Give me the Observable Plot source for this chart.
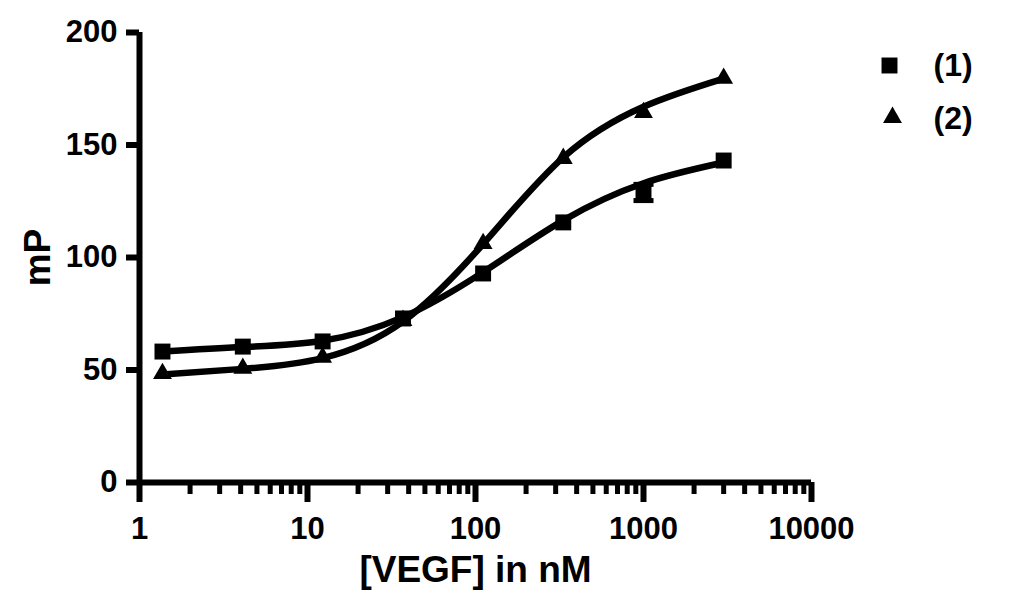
<!DOCTYPE html>
<html>
<head>
<meta charset="utf-8">
<script src="https://cdn.jsdelivr.net/npm/d3@7"></script>
<script src="https://cdn.jsdelivr.net/npm/@observablehq/plot@0.6"></script>
<style>
  html, body { margin: 0; padding: 0; background: #fff; }
  #chart svg { display: block; }
</style>
</head>
<body>
<div id="chart"></div>
<script>
// Concentrations ([VEGF] in nM)
const conc = [1.37, 4.12, 12.3, 37, 111, 333, 1000, 3000];
const series1 = [58.2, 60.4, 62.7, 72.9, 92.9, 115.6, 128.9, 143.1];
const err1    = [0, 0, 0, 0, 0, 0, 3.6, 0];
const fit1    = [58.2, 60.2, 63.0, 73.5, 93.5, 116.5, 133.0, 142.2];
// Series (2) — triangles
const series2 = [48.4, 50.7, 55.6, 72.0, 106.2, 144.0, 164.4, 179.6];
const fit2    = [48.0, 50.5, 55.3, 71.5, 106.0, 144.5, 167.0, 179.5];

const seriesNames = ["(1)", "(2)"];
const xMajorTicks = [1, 10, 100, 1000, 10000];
const xMinorTicks = [2, 3, 4, 5, 6, 7, 8, 9,
                     20, 30, 40, 50, 60, 70, 80, 90,
                     200, 300, 400, 500, 600, 700, 800, 900,
                     2000, 3000, 4000, 5000, 6000, 7000, 8000, 9000];
const yTicks = [0, 50, 100, 150, 200];
const xLabel = "[VEGF] in nM";
const yLabel = "mP";

const pts1 = conc.map((c, i) => ({x: c, y: series1[i], fit: fit1[i], e: err1[i]}));
const pts2 = conc.map((c, i) => ({x: c, y: series2[i], fit: fit2[i]}));
const errs = pts1.filter(d => d.e > 0);

const capSymbol = {
  draw(context, size) {
    const w = Math.sqrt(size / Math.PI);
    context.moveTo(-w, 0);
    context.lineTo(w, 0);
  }
};

const FONT = "'Liberation Sans', Arial, Helvetica, sans-serif";

const chart = Plot.plot({
  width: 1012,
  height: 603,
  marginLeft: 139,
  marginRight: 201,
  marginTop: 32,
  marginBottom: 121,
  x: {type: "log", domain: [1, 10000]},
  y: {domain: [0, 200]},
  style: {fontFamily: FONT, fontWeight: "bold", color: "#000", background: "#fff"},
  marks: [
    // fitted curves
    Plot.line(pts1, {x: "x", y: "fit", curve: "natural", stroke: "#000", strokeWidth: 6.5}),
    Plot.line(pts2, {x: "x", y: "fit", curve: "natural", stroke: "#000", strokeWidth: 6.5}),
    // error bars
    Plot.ruleX(errs, {x: "x", y1: d => d.y - d.e, y2: d => d.y + d.e, stroke: "#000", strokeWidth: 5}),
    Plot.dot(errs, {x: "x", y: d => d.y - d.e, symbol: capSymbol, r: 10, stroke: "#000", strokeWidth: 5, fill: "none"}),
    Plot.dot(errs, {x: "x", y: d => d.y + d.e, symbol: capSymbol, r: 10, stroke: "#000", strokeWidth: 5, fill: "none"}),
    // markers
    Plot.dot(pts1, {x: "x", y: "y", symbol: "square", r: 9, fill: "#000", stroke: "none"}),
    Plot.dot(pts2, {x: "x", y: "y", symbol: "triangle", r: 7, fill: "#000", stroke: "none"}),
    // axis lines
    Plot.ruleY([0], {stroke: "#000", strokeWidth: 6}),
    Plot.ruleX([1], {stroke: "#000", strokeWidth: 6, y1: 0, y2: 200}),
    // x axis
    Plot.axisX(xMajorTicks, {tickSize: 20, tickPadding: 14, strokeWidth: 6, fontSize: 31, tickFormat: d => String(d), label: null}),
    Plot.axisX(xMinorTicks, {tickSize: 12, strokeWidth: 5, tickFormat: () => "", label: null}),
    // y axis
    Plot.axisY(yTicks, {tickSize: 13, tickPadding: 9, strokeWidth: 6, fontSize: 31, tickFormat: d => String(d), label: null}),
    // axis titles
    Plot.text([xLabel], {frameAnchor: "bottom", dy: 88, lineAnchor: "middle", textAnchor: "middle", fontSize: 37, fontWeight: "bold", fill: "#000"}),
    Plot.text([yLabel], {frameAnchor: "left", dx: -101, rotate: -90, lineAnchor: "middle", textAnchor: "middle", fontSize: 37, fontWeight: "bold", fill: "#000"}),
    // legend
    Plot.dot([seriesNames[0]], {frameAnchor: "top-right", dx: 78, dy: 33, symbol: "square", r: 9, fill: "#000"}),
    Plot.dot([seriesNames[1]], {frameAnchor: "top-right", dx: 81, dy: 85, symbol: "triangle", r: 7, fill: "#000"}),
    Plot.text([seriesNames[0]], {frameAnchor: "top-right", dx: 122, dy: 33, text: d => d, textAnchor: "start", lineAnchor: "middle", fontSize: 32, fontWeight: "bold", fill: "#000"}),
    Plot.text([seriesNames[1]], {frameAnchor: "top-right", dx: 122, dy: 86, text: d => d, textAnchor: "start", lineAnchor: "middle", fontSize: 32, fontWeight: "bold", fill: "#000"})
  ]
});

document.getElementById("chart").appendChild(chart);
</script>
</body>
</html>
